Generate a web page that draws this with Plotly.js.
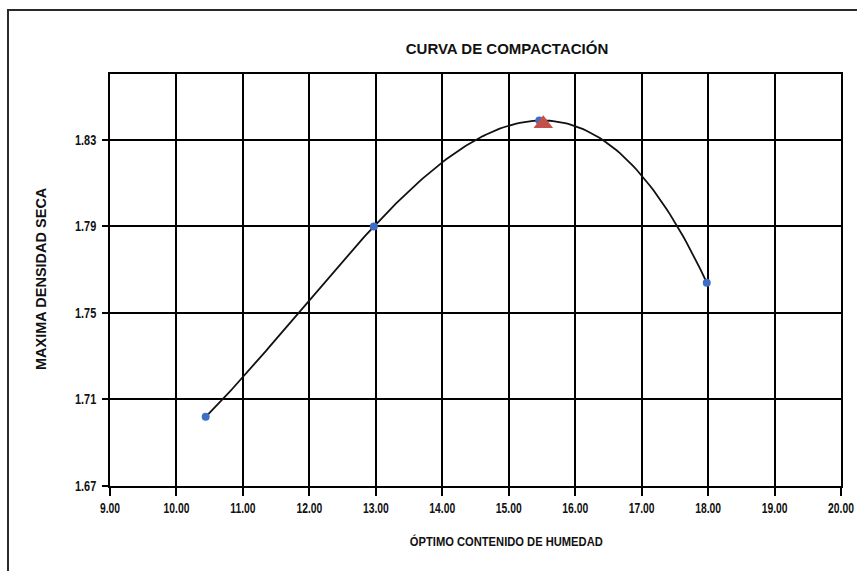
<!DOCTYPE html>
<html>
<head>
<meta charset="utf-8">
<script src="https://cdn.plot.ly/plotly-3.0.1.min.js"></script>
<style>
  html, body { margin: 0; padding: 0; background: #fff; overflow: hidden; }
  #frame { position: absolute; left: 7px; top: 9px; width: 900px; height: 600px;
           border-top: 2px solid #2a2a2a; border-left: 2px solid #2a2a2a; pointer-events: none; }
  #chart { position: absolute; left: 0; top: 0; width: 857px; height: 571px; }
</style>
</head>
<body>
<div id="chart"></div>
<div id="frame"></div>
<script>
// Data
const humedad  = [10.44, 12.97, 15.46, 17.98];     // óptimo contenido de humedad (%)
const densidad = [1.702, 1.790, 1.8390, 1.764];    // máxima densidad seca
const maxHumedad  = [15.52];                       // punto de máxima densidad (triángulo)
const maxDensidad = [1.8375];
const xTicks = [9, 10, 11, 12, 13, 14, 15, 16, 17, 18, 19, 20];
const yTicks = [1.67, 1.71, 1.75, 1.79, 1.83];

// Polynomial (order 3) trendline through the measured points, as in the original chart
function polyFit(xs, ys, order) {
  const n = order + 1;
  const A = [], b = [];
  for (let i = 0; i < n; i++) {
    A.push(new Array(n).fill(0)); b.push(0);
    for (let k = 0; k < xs.length; k++) {
      for (let j = 0; j < n; j++) A[i][j] += Math.pow(xs[k], i + j);
      b[i] += ys[k] * Math.pow(xs[k], i);
    }
  }
  for (let c = 0; c < n; c++) {            // Gaussian elimination
    let p = c;
    for (let r = c + 1; r < n; r++) if (Math.abs(A[r][c]) > Math.abs(A[p][c])) p = r;
    [A[c], A[p]] = [A[p], A[c]]; [b[c], b[p]] = [b[p], b[c]];
    for (let r = c + 1; r < n; r++) {
      const f = A[r][c] / A[c][c];
      for (let j = c; j < n; j++) A[r][j] -= f * A[c][j];
      b[r] -= f * b[c];
    }
  }
  const coef = new Array(n).fill(0);
  for (let r = n - 1; r >= 0; r--) {
    let s = b[r];
    for (let j = r + 1; j < n; j++) s -= A[r][j] * coef[j];
    coef[r] = s / A[r][r];
  }
  return x => coef.reduce((acc, c, i) => acc + c * Math.pow(x, i), 0);
}
const trend = polyFit(humedad, densidad, 3);
const xMin = Math.min(...humedad), xMax = Math.max(...humedad);
const trendX = [], trendY = [];
for (let i = 0; i <= 150; i++) {
  const x = xMin + (xMax - xMin) * i / 150;
  trendX.push(x); trendY.push(trend(x));
}

const FONT = "Liberation Sans, Arial, sans-serif";

const traces = [
  { x: trendX, y: trendY, type: 'scatter', mode: 'lines',
    line: { color: '#111', width: 1.8 }, hoverinfo: 'skip', showlegend: false },
  { x: humedad, y: densidad, type: 'scatter', mode: 'markers',
    marker: { symbol: 'circle', size: 8, color: '#3d6fc6' }, showlegend: false },
  { x: maxHumedad, y: maxDensidad, type: 'scatter', mode: 'markers',
    marker: { symbol: 'triangle-up', size: 17, color: '#c4504c' }, showlegend: false }
];

const layout = {
  width: 857, height: 571,
  margin: { l: 110, r: 16, t: 74, b: 85 },
  paper_bgcolor: '#ffffff', plot_bgcolor: '#ffffff',
  font: { family: FONT, color: '#000', size: 12 },
  title: {
    text: '<b>CURVA DE COMPACTACIÓN</b>',
    font: { family: FONT, size: 15, color: '#111' },
    x: 507 / 857, xref: 'container', xanchor: 'center',
    y: 1 - 48.5 / 571, yref: 'container', yanchor: 'middle'
  },
  xaxis: {
    range: [9, 20],
    tickvals: xTicks,
    ticktext: xTicks.map(v => '<b>' + v.toFixed(2) + '</b>'),
    ticks: 'outside', ticklen: 8, tickwidth: 2, tickcolor: '#000',
    ticklabelstandoff: 0, ticklabeloverflow: 'allow',
    showgrid: true, gridcolor: '#000', gridwidth: 2,
    showline: true, linecolor: '#000', linewidth: 2, mirror: true,
    zeroline: false,
    tickfont: { family: FONT, size: 14, color: '#111' }
  },
  yaxis: {
    range: [1.67, 1.8605],
    tickvals: yTicks,
    ticktext: yTicks.map(v => '<b>' + v.toFixed(2) + '</b>'),
    ticks: 'outside', ticklen: 6, tickwidth: 2, tickcolor: '#000',
    ticklabelstandoff: 3, ticklabeloverflow: 'allow',
    showgrid: true, gridcolor: '#000', gridwidth: 2,
    showline: true, linecolor: '#000', linewidth: 2, mirror: true,
    zeroline: false,
    tickfont: { family: FONT, size: 14, color: '#111' }
  },
  annotations: [
    { text: '<b>ÓPTIMO CONTENIDO DE HUMEDAD</b>', xref: 'paper', yref: 'paper',
      x: (506 - 110) / 731, y: (486 - 541) / 412, xanchor: 'center', yanchor: 'middle',
      showarrow: false, font: { family: FONT, size: 13, color: '#111' } },
    { text: '<b>MAXIMA DENSIDAD SECA</b>', xref: 'paper', yref: 'paper',
      x: (41 - 110) / 731, y: (486 - 279) / 412, xanchor: 'center', yanchor: 'middle',
      textangle: -90, showarrow: false, font: { family: FONT, size: 14.5, color: '#111' } }
  ],
  showlegend: false
};

// Horizontally condense text (the original uses a narrow typeface)
function condense(selector, s, anchor) {
  document.querySelectorAll(selector).forEach(el => {
    const bb = el.getBBox();
    const ax = anchor === 'end' ? bb.x + bb.width : bb.x + bb.width / 2;
    const t = el.getAttribute('transform') || '';
    el.setAttribute('transform', t + ` translate(${ax},0) scale(${s},1) translate(${-ax},0)`);
  });
}

Plotly.newPlot('chart', traces, layout, { displayModeBar: false, staticPlot: true }).then(() => {
  condense('#chart .xtick text', 0.74, 'middle');
  condense('#chart .ytick text', 0.78, 'end');
  condense('#chart .annotation[data-index="0"] text', 0.86, 'middle');
});
</script>
</body>
</html>
